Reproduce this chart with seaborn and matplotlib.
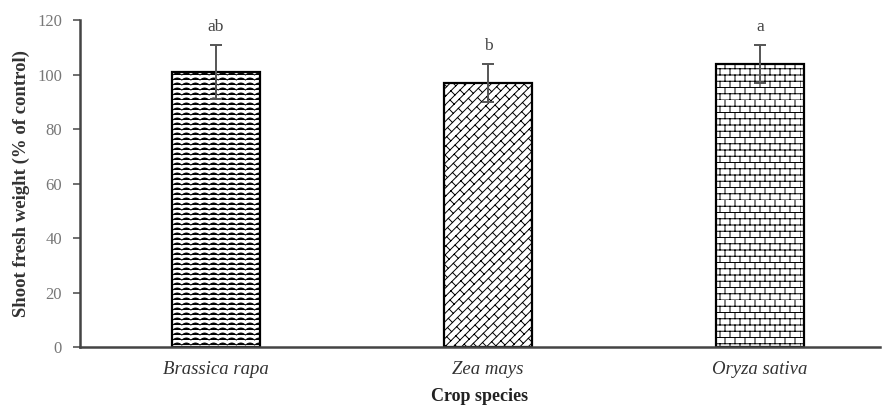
import warnings
warnings.filterwarnings("ignore")
import numpy as np
import pandas as pd
import matplotlib
matplotlib.use("Agg")
import matplotlib.pyplot as plt
import matplotlib.hatch as mhatch
from matplotlib.path import Path
import seaborn as sns

# ---- data ----
categories = ["Brassica rapa", "Zea mays", "Oryza sativa"]
values = [101, 97, 104]
errors = [10, 7, 7]
letters = ["ab", "b", "a"]
yticks = [0, 20, 40, 60, 80, 100, 120]


# ---- custom hatch patterns (wave, diagonal brick, brick) ----
class WaveHatch(mhatch.HatchPatternBase):
    def __init__(self, hatch, density):
        self.on = hatch.count('z') > 0
        self.rows, self.per, self.sub = 20, 11, 8
        self.npts = self.per * self.sub + 1
        self.num_vertices = self.rows * self.npts if self.on else 0

    def set_vertices_and_codes(self, vertices, codes):
        amp = 0.02
        idx = 0
        npts = self.npts
        xs = np.arange(npts) / (npts - 1)
        wave = amp * np.abs(np.sin(np.pi * self.per * xs))
        for r in range(self.rows):
            y0 = r / self.rows
            vertices[idx:idx + npts, 0] = xs
            vertices[idx:idx + npts, 1] = y0 + wave
            codes[idx] = Path.MOVETO
            codes[idx + 1:idx + npts] = Path.LINETO
            idx += npts


class BrickHatch(mhatch.HatchPatternBase):
    def __init__(self, hatch, density):
        self.on = hatch.count('b') > 0
        self.R, self.C = 16, 10
        self.num_vertices = (self.R * 2 + self.R * self.C * 2) if self.on else 0

    def set_vertices_and_codes(self, vertices, codes):
        R, C = self.R, self.C
        idx = 0
        for r in range(R):
            y = r / R
            vertices[idx] = (0, y); vertices[idx + 1] = (1, y)
            codes[idx] = Path.MOVETO; codes[idx + 1] = Path.LINETO
            idx += 2
        for r in range(R):
            y0, y1 = r / R, (r + 1) / R
            for c in range(C):
                x = (c + 0.5 * (r % 2)) / C
                vertices[idx] = (x, y0); vertices[idx + 1] = (x, y1)
                codes[idx] = Path.MOVETO; codes[idx + 1] = Path.LINETO
                idx += 2


class DiagBrickHatch(mhatch.HatchPatternBase):
    def __init__(self, hatch, density):
        self.on = hatch.count('k') > 0
        self.n, self.m = 12, 5
        nl = 2 * self.n + 1
        ns = 2 * self.n * (2 * self.m + 1)
        self.num_vertices = (2 * nl + 2 * ns) if self.on else 0

    def set_vertices_and_codes(self, vertices, codes):
        n, m = self.n, self.m
        idx = 0
        for i in range(-n, n + 1):
            d = i / n
            vertices[idx] = (-1, -1 + d); vertices[idx + 1] = (2, 2 + d)
            codes[idx] = Path.MOVETO; codes[idx + 1] = Path.LINETO
            idx += 2
        for i in range(-n, n):
            d0, d1 = i / n, (i + 1) / n
            for k in range(2 * m + 1):
                t = (k + 0.5 * (i % 2)) / m
                vertices[idx] = ((t - d0) / 2, (t + d0) / 2)
                vertices[idx + 1] = ((t - d1) / 2, (t + d1) / 2)
                codes[idx] = Path.MOVETO; codes[idx + 1] = Path.LINETO
                idx += 2


mhatch._hatch_types.extend([WaveHatch, BrickHatch, DiagBrickHatch])
hatches = ["z", "k", "b"]

# ---- style ----
sns.set_style("white")
plt.rcParams["font.family"] = ["Liberation Serif", "DejaVu Serif"]
plt.rcParams["hatch.linewidth"] = 0.7
plt.rcParams["hatch.color"] = "black"

fig = plt.figure(figsize=(8.85, 4.05), dpi=100)
ax = fig.add_axes([0.0904, 0.1432, 0.9036, 0.8074])

df = pd.DataFrame({"species": categories, "value": values})
sns.barplot(data=df, x="species", y="value", color="white", saturation=1,
            edgecolor="black", linewidth=1.6, width=0.32, errorbar=None, ax=ax)

for patch, h in zip(ax.patches, hatches):
    patch.set_hatch(h)
    patch.set_edgecolor("black")

centers = [p.get_x() + p.get_width() / 2 for p in ax.patches]
ax.errorbar(centers, values, yerr=errors, fmt="none", ecolor="#555555",
            elinewidth=1.4, capsize=4, capthick=1.4, zorder=5)
for x, v, e, lab in zip(centers, values, errors, letters):
    ax.text(x, v + e + 3.5, lab, ha="center", va="bottom", fontsize=12.5,
            color="#444444")

ax.set_xlim(-0.5, 2.44)
ax.set_ylim(0, 120)
ax.set_yticks(yticks)
ax.set_yticklabels([str(t) for t in yticks])
ax.tick_params(axis="y", direction="out", length=5, width=1.2, color="#555555",
               labelsize=12, labelcolor="#777777", pad=8, left=True)
ax.tick_params(axis="x", length=0, labelsize=13.5, labelcolor="#333333", pad=10)
for lbl in ax.get_xticklabels():
    lbl.set_fontstyle("italic")

for s in ["top", "right"]:
    ax.spines[s].set_visible(False)
for s in ["left", "bottom"]:
    ax.spines[s].set_color("#444444")
    ax.spines[s].set_linewidth(1.8)

ax.set_ylabel("Shoot fresh weight (% of control)", fontsize=13.5,
              fontweight="bold", color="#333333", labelpad=5)
ax.set_xlabel("Crop species", fontsize=13, fontweight="bold",
              color="#222222", labelpad=7)

fig.savefig("out.png", dpi=100)
